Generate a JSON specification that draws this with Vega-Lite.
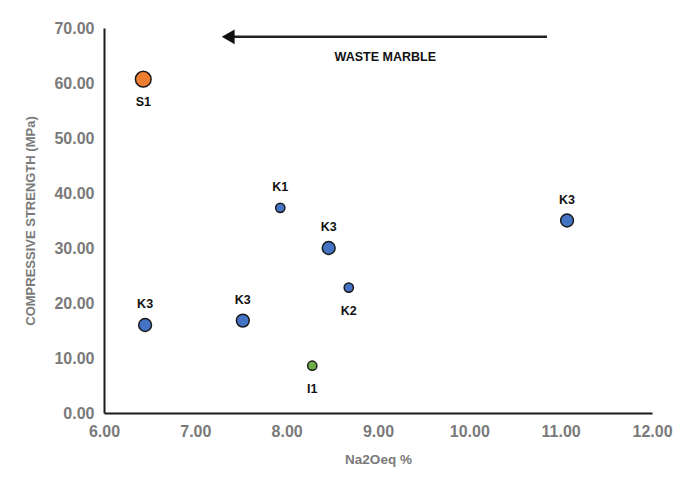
{
  "$schema": "https://vega.github.io/schema/vega-lite/v6.json",
  "width": 548,
  "height": 385,
  "autosize": {"type": "none"},
  "padding": {"left": 104, "top": 28, "right": 27, "bottom": 65},
  "background": "white",
  "config": {
    "view": {"stroke": null},
    "font": "Liberation Sans"
  },
  "datasets": {
    "pts": [
      {"label": "S1", "na2o": 6.43, "strength": 60.7, "group": "S", "bubble": 3, "pos": "below"},
      {"label": "K1", "na2o": 7.93, "strength": 37.3, "group": "K", "bubble": 1, "pos": "above"},
      {"label": "K3", "na2o": 8.46, "strength": 30.0, "group": "K", "bubble": 2, "pos": "above"},
      {"label": "K2", "na2o": 8.68, "strength": 22.8, "group": "K", "bubble": 1, "pos": "below"},
      {"label": "K3", "na2o": 11.07, "strength": 35.0, "group": "K", "bubble": 2, "pos": "above"},
      {"label": "K3", "na2o": 6.45, "strength": 16.0, "group": "K", "bubble": 2, "pos": "above"},
      {"label": "K3", "na2o": 7.52, "strength": 16.8, "group": "K", "bubble": 2, "pos": "above"},
      {"label": "I1", "na2o": 8.28, "strength": 8.6, "group": "I", "bubble": 1, "pos": "below"}
    ],
    "arrow": [
      {"x1": 7.36, "x2": 10.85, "y": 68.4, "text": "WASTE MARBLE", "tx": 9.08, "ty": 64.7}
    ]
  },
  "layer": [
    {
      "data": {"name": "arrow"},
      "mark": {"type": "rule", "color": "#222222", "strokeWidth": 2.5},
      "encoding": {
        "x": {"field": "x1", "type": "quantitative", "scale": {"domain": [6, 12]}},
        "x2": {"field": "x2"},
        "y": {"field": "y", "type": "quantitative", "scale": {"domain": [0, 70]}}
      }
    },
    {
      "data": {"name": "arrow"},
      "mark": {"type": "point", "shape": "triangle-left", "filled": true, "color": "#111111", "size": 220, "opacity": 1},
      "encoding": {
        "x": {"field": "x1", "type": "quantitative"},
        "y": {"field": "y", "type": "quantitative"}
      }
    },
    {
      "data": {"name": "arrow"},
      "mark": {"type": "text", "fontWeight": "bold", "fontSize": 12.5, "color": "#111111", "baseline": "middle", "align": "center"},
      "encoding": {
        "x": {"field": "tx", "type": "quantitative"},
        "y": {"field": "ty", "type": "quantitative"},
        "text": {"field": "text"}
      }
    },
    {
      "data": {"name": "pts"},
      "mark": {"type": "circle", "opacity": 1, "stroke": "#1a1a1a", "strokeWidth": 1.5},
      "encoding": {
        "x": {
          "field": "na2o", "type": "quantitative",
          "scale": {"domain": [6, 12], "nice": false, "zero": false},
          "axis": {
            "title": "Na2Oeq %", "values": [6, 7, 8, 9, 10, 11, 12], "format": ".2f",
            "grid": false, "ticks": false, "domainColor": "#1a1a1a", "domainWidth": 2, "labelFlush": false,
            "labelColor": "#7a7a7a", "labelFont": "Liberation Sans", "labelFontWeight": "bold", "labelFontSize": 16, "labelPadding": 10,
            "titleColor": "#7a7a7a", "titleFont": "Liberation Sans", "titleFontWeight": "bold", "titleFontSize": 13.5, "titlePadding": 13
          }
        },
        "y": {
          "field": "strength", "type": "quantitative",
          "scale": {"domain": [0, 70], "nice": false},
          "axis": {
            "title": "COMPRESSIVE STRENGTH (MPa)", "values": [0, 10, 20, 30, 40, 50, 60, 70], "format": ".2f",
            "grid": false, "ticks": false, "domainColor": "#1a1a1a", "domainWidth": 2, "labelFlush": false,
            "labelColor": "#7a7a7a", "labelFont": "Liberation Sans", "labelFontWeight": "bold", "labelFontSize": 16, "labelPadding": 10,
            "titleColor": "#7a7a7a", "titleFont": "Liberation Sans", "titleFontWeight": "bold", "titleFontSize": 13, "titlePadding": 16
          }
        },
        "color": {
          "field": "group", "type": "nominal",
          "scale": {"domain": ["S", "K", "I"], "range": ["#ED7D31", "#4472C4", "#70AD47"]},
          "legend": null
        },
        "size": {
          "field": "bubble", "type": "quantitative",
          "scale": {"domain": [1, 3], "range": [85, 245]},
          "legend": null
        }
      }
    },
    {
      "data": {"name": "pts"},
      "transform": [{"filter": "datum.pos === 'above'"}],
      "mark": {"type": "text", "fontWeight": "bold", "fontSize": 12.5, "color": "#111111", "dy": -21, "baseline": "middle"},
      "encoding": {
        "x": {"field": "na2o", "type": "quantitative"},
        "y": {"field": "strength", "type": "quantitative"},
        "text": {"field": "label"}
      }
    },
    {
      "data": {"name": "pts"},
      "transform": [{"filter": "datum.pos === 'below'"}],
      "mark": {"type": "text", "fontWeight": "bold", "fontSize": 12.5, "color": "#111111", "dy": 23, "baseline": "middle"},
      "encoding": {
        "x": {"field": "na2o", "type": "quantitative"},
        "y": {"field": "strength", "type": "quantitative"},
        "text": {"field": "label"}
      }
    }
  ]
}
